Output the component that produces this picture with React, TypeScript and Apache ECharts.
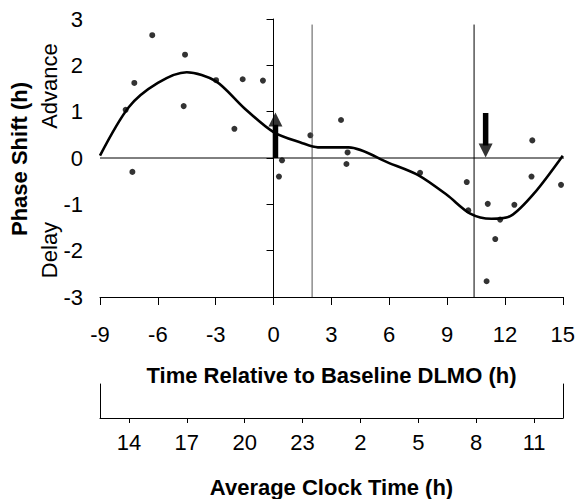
import React, { useEffect, useRef } from "react";
import * as echarts from "echarts";

// Individual subjects: phase shift (h) vs time relative to baseline DLMO (h)
const pointX = [-7.67, -7.22, -6.29, -4.59, -4.66, -2.98, -1.6, -2.03, -0.55, -7.32, 0.44, 0.28, 1.91, 3.5, 3.84, 3.78, 7.6, 10.02, 13.42, 13.38, 14.91, 10.1, 11.11, 11.75, 11.5, 12.49, 11.05];
const pointY = [1.04, 1.62, 2.65, 2.23, 1.12, 1.68, 1.7, 0.63, 1.67, -0.3, -0.05, -0.4, 0.49, 0.82, 0.12, -0.13, -0.32, -0.52, 0.38, -0.4, -0.58, -1.13, -0.99, -1.33, -1.75, -1.01, -2.66];

// Fitted phase response curve
const curveX = [-9, -7.5, -6, -4.5, -3, -1.5, 0, 1.5, 2.3, 3.9, 6, 7.5, 9, 10.2, 11.3, 12.3, 13.5, 15];
const curveY = [0.05, 1.1, 1.62, 1.85, 1.66, 1.07, 0.56, 0.32, 0.23, 0.23, -0.11, -0.37, -0.8, -1.2, -1.31, -1.25, -0.77, 0.05];

// Reference vertical lines (x) and their top (y)
const refLineX = [2, 10.4];
const refLineColor = ["#555555", "#000000"];
const refLineTop = 2.88;

// Arrows: shaft [x, yStart, yEnd], head [x, yCenter, rotation]
const shaftX = [0.1, 11];
const shaftFrom = [0, 0.97];
const shaftTo = [0.72, 0.27];
const headY = [0.83, 0.16];
const headRotate = [0, 180];

// Axes
const relMin = -9;
const relMax = 15;
const relInterval = 3;
const yMin = -3;
const yMax = 3;
const clockMin = 12.5;
const clockMax = 36.5;
const clockTicks = [14, 17, 20, 23, 26, 29, 32, 35];

const FONT = "'Liberation Sans', Arial, Helvetica, sans-serif";

export default function App() {
  const ref = useRef<HTMLDivElement>(null);
  useEffect(() => {
    const chart = echarts.init(ref.current!, null, { renderer: "svg" });
    const black = "#000000";
    const series: any[] = [];

    series.push({
      type: "line",
      xAxisIndex: 0,
      yAxisIndex: 0,
      data: [[relMin, 0], [relMax + 0.45, 0]],
      symbol: "none",
      clip: false,
      lineStyle: { color: black, width: 1 },
      silent: true,
    });
    refLineX.forEach((x, i) => {
      series.push({
        type: "line",
        data: [[x, yMin], [x, refLineTop]],
        symbol: "none",
        lineStyle: { color: refLineColor[i], width: 1 },
        silent: true,
      });
    });
    series.push({
      type: "line",
      data: curveX.map((x, i) => [x, curveY[i]]),
      smooth: 0.3,
      symbol: "none",
      lineStyle: { color: black, width: 2.6 },
    });
    series.push({
      type: "scatter",
      data: pointX.map((x, i) => [x, pointY[i]]),
      symbol: "circle",
      symbolSize: 6,
      itemStyle: { color: black },
    });
    shaftX.forEach((x, i) => {
      series.push({
        type: "line",
        data: [[x, shaftFrom[i]], [x, shaftTo[i]]],
        symbol: "none",
        lineStyle: { color: black, width: 5.5, cap: "butt" },
      });
      series.push({
        type: "scatter",
        data: [[x, headY[i]]],
        symbol: "triangle",
        symbolSize: [14, 14],
        symbolRotate: headRotate[i],
        itemStyle: { color: black },
      });
    });

    const labelStyle = { color: black, fontSize: 22, fontFamily: FONT };

    chart.setOption({
      animation: false,
      backgroundColor: "#ffffff",
      grid: [
        { left: 100, width: 463, top: 19, height: 278 },
        { left: 100, width: 463, top: 384, height: 34 },
      ],
      xAxis: [
        {
          type: "value",
          gridIndex: 0,
          min: relMin,
          max: relMax,
          interval: relInterval,
          axisLine: { show: true, onZero: false, lineStyle: { color: black, width: 1 } },
          axisTick: { show: true, length: 8, lineStyle: { color: black } },
          axisLabel: { ...labelStyle, margin: 26 },
          splitLine: { show: false },
        },
        {
          type: "value",
          gridIndex: 1,
          min: clockMin,
          max: clockMax,
          axisLine: { show: true, onZero: false, lineStyle: { color: black, width: 1 } },
          axisTick: { show: true, length: 5, customValues: clockTicks, lineStyle: { color: black } },
          axisLabel: {
            ...labelStyle,
            margin: 13,
            customValues: clockTicks,
            formatter: (v: number) => String(Math.round(v) % 24),
          },
          splitLine: { show: false },
        },
      ],
      yAxis: [
        {
          type: "value",
          gridIndex: 0,
          min: yMin,
          max: yMax,
          interval: 1,
          axisLine: { show: true, lineStyle: { color: black, width: 1 } },
          axisTick: { show: true, length: 7, lineStyle: { color: black } },
          axisLabel: { ...labelStyle, margin: 17, padding: [5, 0, 0, 0] },
          splitLine: { show: false },
        },
        {
          type: "value",
          gridIndex: 1,
          min: 0,
          max: 1,
          axisLine: { show: true, lineStyle: { color: black, width: 1 } },
          axisTick: { show: false },
          axisLabel: { show: false },
          splitLine: { show: false },
        },
        {
          type: "value",
          gridIndex: 1,
          position: "right",
          min: 0,
          max: 1,
          axisLine: { show: true, lineStyle: { color: black, width: 1 } },
          axisTick: { show: false },
          axisLabel: { show: false },
          splitLine: { show: false },
        },
      ],
      graphic: [
        {
          type: "text",
          x: 331.5,
          y: 375,
          style: { text: "Time Relative to Baseline DLMO (h)", fontSize: 22, fontWeight: "bold", fontFamily: FONT, fill: black, textAlign: "center", textVerticalAlign: "middle" },
        },
        {
          type: "text",
          x: 331.5,
          y: 487,
          style: { text: "Average Clock Time (h)", fontSize: 22, fontWeight: "bold", fontFamily: FONT, fill: black, textAlign: "center", textVerticalAlign: "middle" },
        },
        {
          type: "text",
          x: 19,
          y: 159,
          rotation: Math.PI / 2,
          style: { text: "Phase Shift (h)", fontSize: 22, fontWeight: "bold", fontFamily: FONT, fill: black, textAlign: "center", textVerticalAlign: "middle" },
        },
        {
          type: "text",
          x: 49,
          y: 86,
          rotation: Math.PI / 2,
          style: { text: "Advance", fontSize: 22, fontFamily: FONT, fill: black, textAlign: "center", textVerticalAlign: "middle" },
        },
        {
          type: "text",
          x: 49,
          y: 250,
          rotation: Math.PI / 2,
          style: { text: "Delay", fontSize: 22, fontFamily: FONT, fill: black, textAlign: "center", textVerticalAlign: "middle" },
        },
      ],
      series,
    });
    return () => chart.dispose();
  }, []);
  return <div ref={ref} style={{ position: "absolute", left: 0, top: 0, width: 578, height: 499 }} />;
}
